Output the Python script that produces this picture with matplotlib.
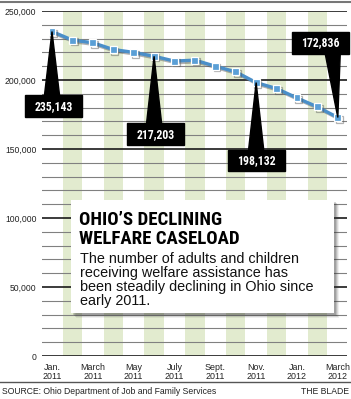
import numpy as np
import matplotlib
matplotlib.use("Agg")
import matplotlib.pyplot as plt
import matplotlib.patheffects as pe
from matplotlib.patches import Rectangle, Polygon
from matplotlib import font_manager

plt.rcParams["font.family"] = ["Liberation Sans", "DejaVu Sans"]

# monthly caseload, Jan 2011 .. March 2012
months = ["Jan. 2011", "Feb. 2011", "March 2011", "April 2011", "May 2011", "June 2011",
          "July 2011", "Aug. 2011", "Sept. 2011", "Oct. 2011", "Nov. 2011", "Dec. 2011",
          "Jan. 2012", "Feb. 2012", "March 2012"]
caseload = [235143, 228900, 227000, 222100, 220000, 217203, 213700, 214400,
            210000, 205900, 198132, 193800, 187000, 180500, 172836]
tick_labels = ["Jan.\n2011", "March\n2011", "May\n2011", "July\n2011", "Sept.\n2011",
               "Nov.\n2011", "Jan.\n2012", "March\n2012"]
callout_idx = [0, 5, 10, 14]

title_lines = ["OHIO\u2019S DECLINING", "WELFARE CASELOAD"]
body_lines = ["The number of adults and children",
              "receiving welfare assistance has",
              "been steadily declining in Ohio since",
              "early 2011."]
source = "SOURCE: Ohio Department of Job and Family Services"
credit = "THE BLADE"

# pick a condensed bold face for the headline and callouts
head_font = None
for name in ["Roboto Condensed", "Open Sans Condensed", "Barlow Condensed", "Archivo Narrow"]:
    hits = [f for f in font_manager.fontManager.ttflist if f.name == name and f.weight == 700]
    if hits:
        head_font = font_manager.FontProperties(fname=hits[0].fname)
        break
if head_font is None:
    head_font = font_manager.FontProperties(family="DejaVu Sans", stretch="condensed", weight="bold")

W, H = 351, 399
fig = plt.figure(figsize=(W / 100, H / 100), dpi=100)
renderer = fig.canvas.get_renderer()

def fx(px):
    return px / W

def fy(py):
    return 1 - py / H

def fit(t, width_px):
    w = t.get_window_extent(renderer).width
    t.set_fontsize(t.get_fontsize() * width_px / w)
    return t.get_fontsize()

ax = fig.add_axes([fx(42), fy(356), fx(347) - fx(42), fy(11) - fy(356)])
x = np.arange(len(caseload))

# green bands on the even months
for i in x[1::2]:
    ax.axvspan(i - 0.47, i + 0.47, color="#e2ebcf", lw=0, zorder=0)

# gridlines
for v in range(0, 250001, 10000):
    if v % 50000 == 0:
        ax.axhline(v, color="#1a1a1a", lw=1.2, zorder=1)
    else:
        ax.axhline(v, color="#808080", lw=0.8, zorder=1)

ax.plot(x, caseload, color="#4a8fc9", lw=2.4, marker="s", ms=5.0,
        mfc="#5a9fd6", mec="white", mew=0.9, zorder=4,
        path_effects=[pe.SimpleLineShadow(offset=(1.2, -1.2), shadow_color="#555555", alpha=0.45),
                      pe.Normal()])

ax.set_xlim(-0.49, 14.45)
ax.set_ylim(0, 250000)
ax.set_yticks(range(0, 250001, 50000))
ax.set_yticklabels(["0" if v == 0 else f"{v:,}" for v in range(0, 250001, 50000)])
ax.set_xticks(x[::2])
ax.set_xticklabels(tick_labels, linespacing=0.95)
ax.tick_params(length=0, labelsize=6.4, colors="#222222")
ax.tick_params(axis="y", pad=4, labelsize=6.2)
ax.tick_params(axis="x", pad=5)
for s in ax.spines.values():
    s.set_visible(False)

# callout boxes with pointers
box_offsets = [(0.07, 181000), (0.07, 160600), (0.0, 141700), (-0.86, 227100)]
box_w, box_h, half = 2.8, 15800, 0.37
label_size = None
for i, (dx, by) in zip(callout_idx, box_offsets):
    v = caseload[i]
    bx = i + dx
    edge = by + box_h / 2 if by < v else by - box_h / 2
    base_x = i if abs(dx) < 0.5 else i - 0.25
    ax.add_patch(Polygon([(i, v), (base_x - half, edge), (base_x + half, edge)],
                         closed=True, color="black", zorder=5, clip_on=False))
    ax.add_patch(Rectangle((bx - box_w / 2, by - box_h / 2), box_w, box_h,
                           color="black", zorder=6, clip_on=False))
    t = ax.text(bx, by, f"{v:,}", color="white", ha="center", va="center",
                fontproperties=head_font, fontsize=10, zorder=7)
    if label_size is None:
        label_size = fit(t, 39)
    else:
        t.set_fontsize(label_size)

# text panel with shadow
for k, a in enumerate([0.08, 0.12, 0.16, 0.20]):
    off = 5 - k
    fig.patches.append(Rectangle((fx(71 + off), fy(313 + off)), fx(263), fy(200) - fy(313),
                                 transform=fig.transFigure, color="#333333", alpha=a, lw=0,
                                 zorder=8))
fig.patches.append(Rectangle((fx(71), fy(313)), fx(263), fy(200) - fy(313),
                             transform=fig.transFigure, facecolor="white",
                             edgecolor="none", lw=0, zorder=9))

title_size = None
for k, line in enumerate(title_lines):
    t = fig.text(fx(79), fy(225 + k * 18.5), line, fontproperties=head_font,
                 fontsize=13.5, color="black", va="baseline", zorder=10)
    if title_size is None:
        title_size = fit(t, 144)
    else:
        t.set_fontsize(title_size)

body_size = None
for k, line in enumerate(body_lines):
    t = fig.text(fx(80), fy(263 + k * 14), line, fontsize=10.1, color="#111111",
                 va="baseline", zorder=10)
    if body_size is None:
        body_size = fit(t, 219)
    else:
        t.set_fontsize(body_size)

# frame lines and footer
fig.add_artist(plt.Line2D([0, 1], [fy(1.5), fy(1.5)], color="#777777", lw=1.5))
fig.add_artist(plt.Line2D([0, 1], [fy(382), fy(382)], color="#555555", lw=1.0))
t = fig.text(fx(2), fy(392), source, fontsize=6.4, color="#222222", va="center", ha="left")
src_size = fit(t, 216)
fig.text(fx(349), fy(392), credit, fontsize=src_size, color="#222222", va="center", ha="right")

fig.savefig("out.png", dpi=100)
